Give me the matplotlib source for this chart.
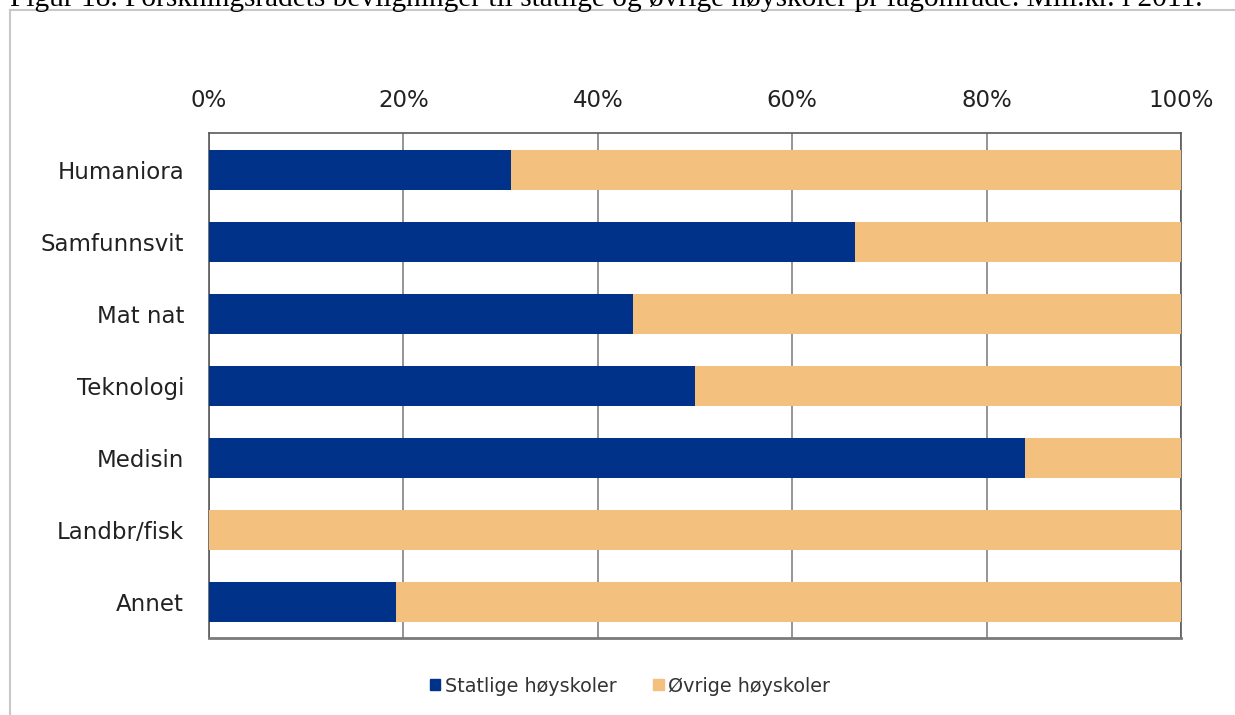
import matplotlib
matplotlib.use("Agg")
import matplotlib.pyplot as plt
from matplotlib.lines import Line2D
from matplotlib.patches import Patch

categories = ["Humaniora", "Samfunnsvit", "Mat nat", "Teknologi", "Medisin", "Landbr/fisk", "Annet"]
statlige = [31.1, 66.5, 43.6, 50.0, 84.0, 0.0, 19.2]
ovrige = [68.9, 33.5, 56.4, 50.0, 16.0, 100.0, 80.8]
series_names = ["Statlige høyskoler", "Øvrige høyskoler"]
xticks = [0, 20, 40, 60, 80, 100]
xtick_labels = ["0%", "20%", "40%", "60%", "80%", "100%"]
title = "Figur 18. Forskningsrådets bevilgninger til statlige og øvrige høyskoler pr fagområde. Mill.kr. i 2011."

BLUE = "#00328A"
ORANGE = "#F4C07D"

W, H = 1235, 715
fig = plt.figure(figsize=(W / 100, H / 100), dpi=100)
fig.patch.set_facecolor("white")

# outer frame (cropped at right/bottom)
fig.add_artist(Line2D([10 / W, 10 / W], [0, 1 - 10 / H], color="#c8c8c8", lw=1.5, transform=fig.transFigure))
fig.add_artist(Line2D([10 / W, 1], [1 - 10 / H, 1 - 10 / H], color="#c8c8c8", lw=1.5, transform=fig.transFigure))

# title, cropped at top as in the source
fig.text(10 / W, 1 - 6 / H, title, family="Liberation Serif", fontsize=21.2,
         ha="left", va="baseline", color="black")

ax = fig.add_axes([209 / W, 1 - 638 / H, (1181 - 209) / W, (638 - 133) / H])
y = list(range(len(categories)))
ax.barh(y, statlige, height=0.55, color=BLUE, label=series_names[0], zorder=3)
ax.barh(y, ovrige, left=statlige, height=0.55, color=ORANGE, label=series_names[1], zorder=3)

ax.set_xlim(0, 100)
ax.set_ylim(len(categories) - 0.5, -0.51)
ax.set_yticks(y)
ax.set_yticklabels(categories)
ax.set_xticks(xticks)
ax.set_xticklabels(xtick_labels)
ax.xaxis.tick_top()
ax.tick_params(axis="x", length=0, pad=15, labelsize=16.5, labelcolor="#222222")
ax.tick_params(axis="y", length=0, pad=18, labelsize=16.5, labelcolor="#222222")
ax.grid(axis="x", color="#8c8c8c", lw=1.3, zorder=0)
ax.set_axisbelow(True)
for s in ax.spines.values():
    s.set_color("#5a5a5a")
    s.set_linewidth(1.2)
ax.spines["bottom"].set_linewidth(2.0)
ax.spines["bottom"].set_color("#7a7a7a")

handles = [Patch(color=BLUE), Patch(color=ORANGE)]
leg = fig.legend(handles, series_names, loc="center", bbox_to_anchor=(630 / W, 1 - 686 / H),
                 ncol=2, frameon=False, fontsize=13.8, handlelength=0.55, handleheight=0.55,
                 handletextpad=0.25, columnspacing=1.9)
for t in leg.get_texts():
    t.set_color("#333333")

fig.savefig("out.png", dpi=100, facecolor="white")
